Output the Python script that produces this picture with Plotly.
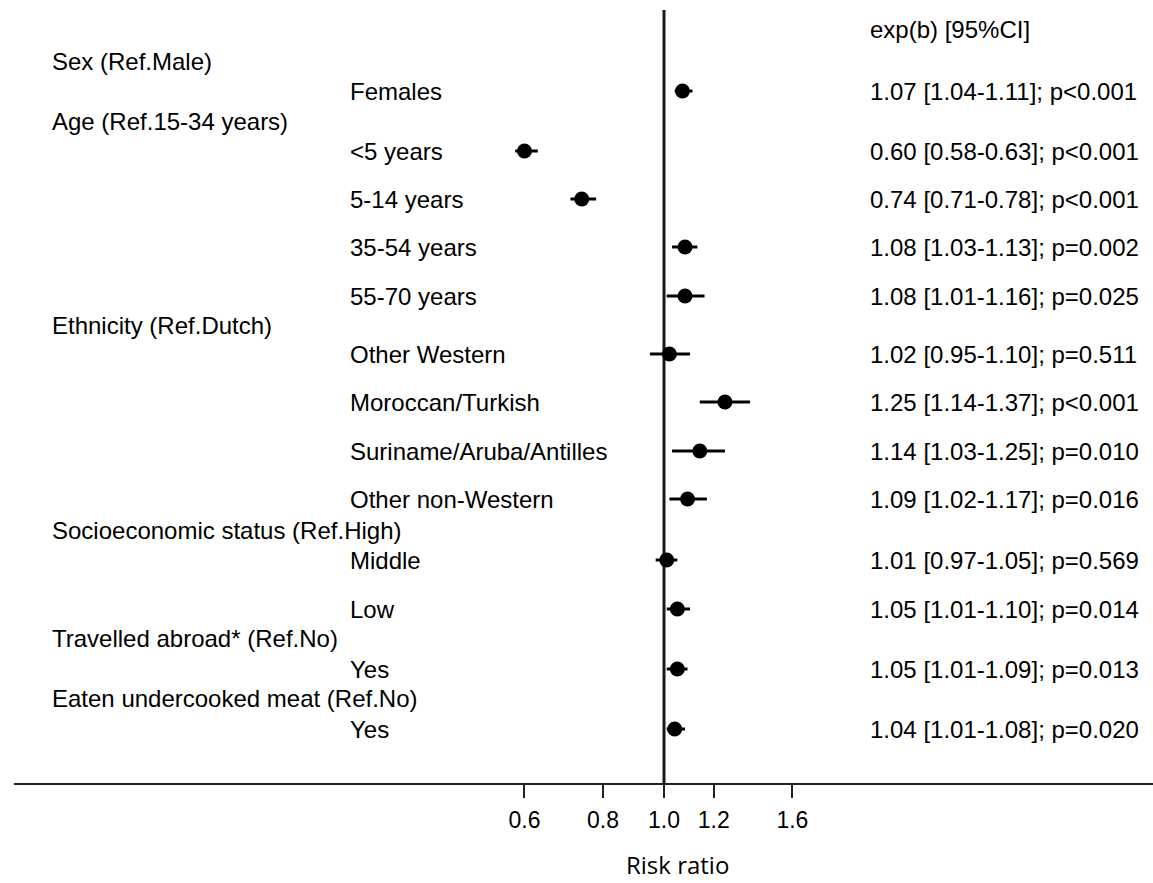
import math
import plotly.graph_objects as go

# ---- data ----
groups = ["Sex (Ref.Male)", "Age (Ref.15-34 years)", "Ethnicity (Ref.Dutch)",
          "Socioeconomic status (Ref.High)", "Travelled abroad* (Ref.No)",
          "Eaten undercooked meat (Ref.No)"]
labels = ["Females", "<5 years", "5-14 years", "35-54 years", "55-70 years",
          "Other Western", "Moroccan/Turkish", "Suriname/Aruba/Antilles",
          "Other non-Western", "Middle", "Low", "Yes", "Yes"]
estimate = [1.07, 0.60, 0.74, 1.08, 1.08, 1.02, 1.25, 1.14, 1.09, 1.01, 1.05, 1.05, 1.04]
ci_low = [1.04, 0.58, 0.71, 1.03, 1.01, 0.95, 1.14, 1.03, 1.02, 0.97, 1.01, 1.01, 1.01]
ci_high = [1.11, 0.63, 0.78, 1.13, 1.16, 1.10, 1.37, 1.25, 1.17, 1.05, 1.10, 1.09, 1.08]
p_text = ["p<0.001", "p<0.001", "p<0.001", "p=0.002", "p=0.025", "p=0.511",
          "p<0.001", "p=0.010", "p=0.016", "p=0.569", "p=0.014", "p=0.013", "p=0.020"]
tick_vals = [0.6, 0.8, 1.0, 1.2, 1.6]
tick_text = ["0.6", "0.8", "1.0", "1.2", "1.6"]

# ---- layout (pixel positions of rows) ----
W, H = 1153, 883
ML, MB = 14, 100
PLOT_H = H - MB
row_y = [91, 151, 199, 247, 296, 354, 402, 451, 499, 560, 609, 669, 729]
group_y = [61, 121, 325, 530, 638, 698]

PX_PER_DEC = 629.0
X_REF = 664.0
x_range = [(ML - X_REF) / PX_PER_DEC, (W - X_REF) / PX_PER_DEC]


def px2paper(px):
    return (px - ML) / (W - ML)


FONT = "Liberation Sans, Arial, sans-serif"

fig = go.Figure()

# reference line at 1
fig.add_trace(go.Scatter(x=[1, 1], y=[10, PLOT_H], mode="lines",
                         line=dict(color="#1a1a1a", width=3),
                         hoverinfo="skip", showlegend=False))

fig.add_trace(go.Scatter(
    x=estimate, y=row_y, mode="markers",
    marker=dict(color="black", size=15, symbol="circle"),
    error_x=dict(type="data", symmetric=False,
                 array=[h - e for h, e in zip(ci_high, estimate)],
                 arrayminus=[e - l for e, l in zip(estimate, ci_low)],
                 color="black", thickness=3, width=0),
    showlegend=False, hoverinfo="skip"))

ann = []
for g, y in zip(groups, group_y):
    ann.append(dict(x=px2paper(50), y=y, xref="paper", yref="y", text=g,
                    showarrow=False, xanchor="left", yanchor="middle",
                    font=dict(family=FONT, size=24, color="black")))
for lab, y in zip(labels, row_y):
    ann.append(dict(x=px2paper(348), y=y, xref="paper", yref="y", text=lab,
                    showarrow=False, xanchor="left", yanchor="middle",
                    font=dict(family=FONT, size=24, color="black")))
for e, lo, hi, p, y in zip(estimate, ci_low, ci_high, p_text, row_y):
    ann.append(dict(x=px2paper(868), y=y, xref="paper", yref="y",
                    text=f"{e:.2f} [{lo:.2f}-{hi:.2f}]; {p}",
                    showarrow=False, xanchor="left", yanchor="middle",
                    font=dict(family=FONT, size=24, color="black")))
ann.append(dict(x=px2paper(868), y=29, xref="paper", yref="y",
                text="exp(b) [95%CI]", showarrow=False, xanchor="left",
                yanchor="middle", font=dict(family=FONT, size=24, color="black")))
ann.append(dict(x=px2paper(677), y=-(864 - PLOT_H) / PLOT_H, xref="paper", yref="paper",
                text="Risk ratio", showarrow=False, xanchor="center",
                yanchor="middle", font=dict(family="Open Sans, sans-serif", size=24,
                                            color="black")))

fig.update_layout(
    width=W, height=H,
    margin=dict(l=ML, r=0, t=0, b=MB, pad=0),
    paper_bgcolor="white", plot_bgcolor="white",
    annotations=ann,
    xaxis=dict(type="log", range=x_range, tickvals=tick_vals, ticktext=tick_text,
               showgrid=False, zeroline=False, showline=True, linecolor="#222",
               linewidth=2, ticks="outside", ticklen=13, tickwidth=2,
               tickcolor="#222", ticklabelstandoff=2,
               tickfont=dict(family=FONT, size=23, color="black")),
    yaxis=dict(range=[PLOT_H, 0], visible=False, showgrid=False, zeroline=False),
)

fig.write_html("out.html")
